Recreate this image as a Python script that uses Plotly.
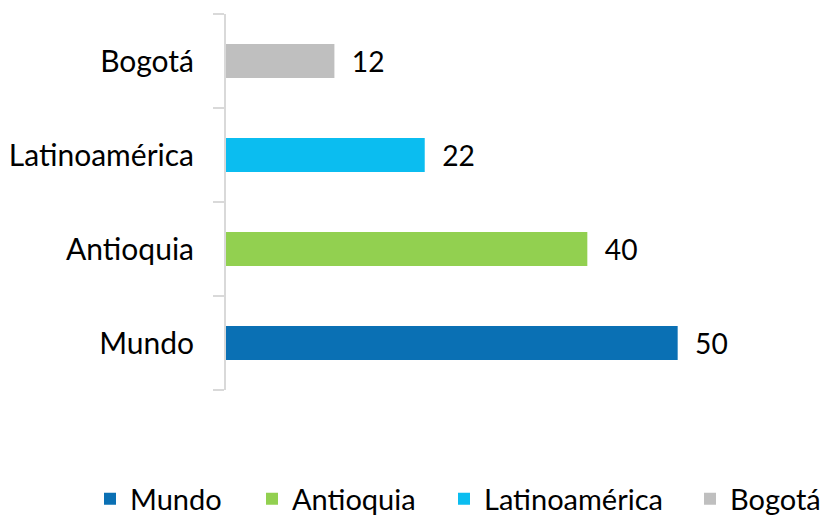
import plotly.graph_objects as go

# Data
categories = ["Mundo", "Antioquia", "Latinoamérica", "Bogotá"]
values = [50, 40, 22, 12]
colors = ["#0A70B4", "#92D050", "#0BBDF0", "#BFBFBF"]

# one legend per entry so the spacing can follow the reference
legend_ids = ["legend", "legend2", "legend3", "legend4"]
legend_x = [90, 252, 444, 690]  # left edge of each legend, in px

plot_l, plot_w, plot_t, plot_h = 226, 542, 14, 376

fig = go.Figure()
for cat, val, col, lg in zip(categories, values, colors, legend_ids):
    fig.add_trace(go.Bar(
        x=[val], y=[cat], name=cat, orientation="h",
        marker=dict(color=col, line=dict(width=0)),
        width=0.36,
        text=["  " + str(val)], textposition="outside",
        textfont=dict(size=35, color="#000000"),
        cliponaxis=False, legend=lg,
    ))

legend_y = (plot_t + plot_h - 499) / plot_h
for lg, px in zip(legend_ids, legend_x):
    fig.update_layout({lg: dict(
        orientation="h", x=(px - plot_l) / plot_w, xanchor="left",
        y=legend_y, yanchor="middle", font=dict(size=29),
        bgcolor="rgba(0,0,0,0)",
    )})

fig.update_layout(
    width=827, height=516,
    margin=dict(l=plot_l, r=827 - plot_l - plot_w, t=plot_t,
                b=516 - plot_t - plot_h, autoexpand=False),
    barmode="overlay",
    plot_bgcolor="white", paper_bgcolor="white",
    font=dict(family="Lato, Carlito, Calibri, sans-serif", color="#000000"),
    showlegend=True,
)
fig.update_xaxes(range=[0, 60], visible=False, showgrid=False)
fig.update_yaxes(
    categoryorder="array", categoryarray=categories,
    tickson="boundaries", ticks="outside", ticklen=11, tickcolor="#D9D9D9",
    tickwidth=2, showline=True, linecolor="#D9D9D9", linewidth=2,
    showgrid=False, tickfont=dict(size=30, color="#000000"),
    ticklabelstandoff=24, automargin=False,
)

fig.write_html("out.html", config={"displayModeBar": False},
               post_script="document.body.style.margin='0px';")
